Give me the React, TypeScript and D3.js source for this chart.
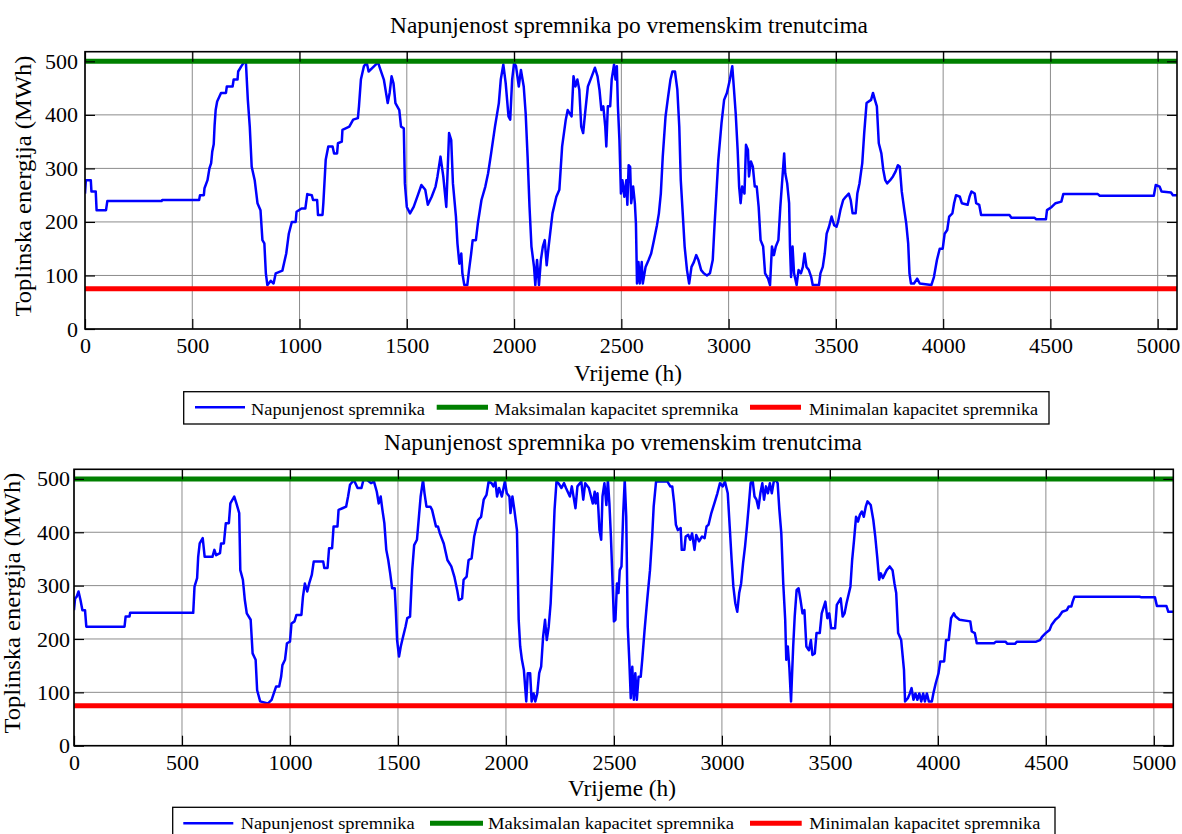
import { useEffect, useRef } from 'react';
import * as d3 from 'd3';

// ── Data ──

const topHours = [
  0, 4, 27, 30, 50, 54, 98, 104, 357, 360, 532, 536, 554, 557, 571, 580, 588, 593, 600, 604, 609, 616, 634, 657,
  661, 688, 693, 711, 714, 729, 741, 750, 759, 768, 777, 791, 804, 818, 827, 836, 843, 850, 866, 879, 889, 920,
  929, 938, 950, 964, 982, 986, 1009, 1027, 1036, 1057, 1063, 1082, 1086, 1107, 1111, 1122, 1134, 1154, 1161,
  1175, 1179, 1197, 1200, 1232, 1250, 1272, 1277, 1286, 1300, 1313, 1322, 1348, 1366, 1375, 1393, 1411, 1420,
  1429, 1438, 1447, 1465, 1473, 1486, 1491, 1500, 1515, 1532, 1554, 1568, 1586, 1598, 1616, 1634, 1643, 1657,
  1670, 1684, 1697, 1707, 1715, 1729, 1736, 1745, 1754, 1759, 1768, 1782, 1790, 1800, 1807, 1822, 1831, 1848,
  1866, 1879, 1893, 1911, 1929, 1938, 1950, 1961, 1974, 1982, 1991, 2000, 2009, 2022, 2032, 2045, 2054, 2063,
  2072, 2081, 2093, 2099, 2107, 2116, 2125, 2134, 2143, 2152, 2161, 2179, 2197, 2211, 2224, 2241, 2250, 2268,
  2277, 2286, 2295, 2304, 2313, 2322, 2331, 2344, 2362, 2377, 2389, 2398, 2407, 2416, 2425, 2430, 2437, 2448,
  2455, 2466, 2473, 2479, 2484, 2491, 2498, 2505, 2514, 2523, 2528, 2534, 2541, 2546, 2555, 2563, 2568, 2573,
  2580, 2586, 2595, 2600, 2613, 2627, 2639, 2652, 2666, 2675, 2684, 2693, 2706, 2716, 2729, 2738, 2750, 2761,
  2770, 2777, 2788, 2795, 2806, 2816, 2827, 2838, 2849, 2859, 2872, 2884, 2899, 2913, 2926, 2934, 2943, 2952,
  2967, 2979, 2992, 3006, 3017, 3024, 3033, 3042, 3049, 3056, 3063, 3074, 3081, 3090, 3095, 3104, 3113, 3122,
  3131, 3140, 3149, 3161, 3170, 3184, 3193, 3202, 3211, 3220, 3232, 3241, 3250, 3259, 3264, 3273, 3282, 3286,
  3291, 3298, 3305, 3317, 3326, 3337, 3346, 3354, 3363, 3374, 3385, 3392, 3421, 3428, 3439, 3448, 3457, 3468,
  3480, 3492, 3503, 3510, 3521, 3534, 3546, 3560, 3569, 3578, 3592, 3600, 3610, 3623, 3632, 3643, 3664, 3673,
  3682, 3691, 3700, 3712, 3721, 3730, 3739, 3753, 3766, 3778, 3789, 3798, 3807, 3819, 3828, 3837, 3843, 3850,
  3864, 3879, 3891, 3945, 3957, 3971, 3984, 3998, 4007, 4019, 4028, 4043, 4051, 4060, 4078, 4087, 4114, 4123,
  4132, 4147, 4154, 4168, 4177, 4309, 4318, 4425, 4434, 4479, 4484, 4506, 4524, 4551, 4560, 4721, 4730, 4982,
  4991, 5009, 5018, 5062, 5071, 5090,
];
const topLevels = [
  253, 278, 278, 257, 257, 222, 222, 239, 239, 241, 241, 250, 250, 263, 278, 300, 310, 331, 345, 380, 409, 425,
  441, 441, 453, 453, 466, 466, 481, 491, 498, 498, 428, 378, 303, 278, 235, 222, 166, 160, 104, 82, 90, 85, 104,
  109, 125, 141, 178, 200, 200, 219, 225, 225, 252, 250, 241, 241, 213, 213, 235, 316, 341, 341, 328, 328, 347,
  350, 372, 378, 391, 394, 416, 466, 491, 498, 481, 491, 498, 487, 466, 422, 441, 472, 459, 422, 409, 378, 375,
  272, 228, 216, 228, 253, 269, 260, 232, 247, 266, 285, 322, 285, 228, 366, 353, 272, 210, 160, 122, 141, 104,
  82, 82, 110, 141, 166, 166, 197, 241, 266, 291, 328, 378, 422, 466, 494, 459, 397, 391, 466, 497, 491, 453,
  484, 453, 403, 322, 228, 154, 116, 82, 129, 82, 129, 154, 166, 119, 154, 216, 247, 260, 341, 391, 409, 397,
  472, 453, 466, 447, 378, 366, 403, 453, 472, 488, 472, 447, 409, 416, 378, 341, 416, 416, 466, 494, 466, 491,
  416, 353, 253, 278, 247, 278, 232, 306, 303, 235, 266, 235, 197, 85, 125, 85, 125, 85, 116, 129, 141, 166, 194,
  216, 253, 322, 397, 428, 466, 481, 481, 447, 378, 278, 203, 154, 110, 85, 116, 125, 138, 129, 110, 104, 100,
  104, 129, 191, 253, 316, 385, 428, 441, 466, 491, 453, 403, 335, 266, 235, 266, 253, 344, 335, 285, 313, 303,
  266, 266, 228, 166, 154, 104, 94, 82, 154, 138, 154, 166, 228, 278, 328, 291, 272, 235, 154, 97, 154, 104, 82,
  110, 104, 116, 141, 116, 110, 97, 82, 82, 104, 116, 141, 178, 191, 210, 194, 191, 200, 222, 241, 247, 253, 241,
  216, 216, 253, 272, 310, 366, 422, 428, 441, 428, 416, 347, 328, 297, 278, 272, 278, 285, 294, 306, 303, 257,
  222, 197, 160, 104, 85, 85, 94, 85, 82, 97, 129, 150, 150, 178, 185, 210, 216, 235, 250, 247, 235, 232, 247,
  257, 253, 235, 232, 213, 213, 208, 208, 205, 205, 222, 228, 235, 238, 252, 252, 249, 249, 269, 266, 257, 255,
  250, 250,
];

const bottomHours = [
  0, 5, 12, 21, 30, 39, 51, 57, 234, 239, 257, 260, 552, 558, 570, 575, 582, 596, 605, 641, 650, 658, 676, 681,
  694, 703, 717, 724, 742, 752, 765, 770, 782, 791, 800, 818, 827, 841, 848, 862, 897, 915, 936, 950, 959, 965,
  977, 986, 1000, 1007, 1021, 1030, 1053, 1060, 1069, 1080, 1089, 1101, 1110, 1154, 1159, 1174, 1181, 1195, 1202,
  1220, 1225, 1243, 1260, 1269, 1278, 1296, 1313, 1331, 1340, 1358, 1375, 1389, 1402, 1411, 1420, 1428, 1437,
  1446, 1455, 1464, 1473, 1485, 1490, 1496, 1505, 1513, 1520, 1535, 1543, 1556, 1566, 1575, 1588, 1597, 1605,
  1616, 1623, 1632, 1650, 1658, 1676, 1685, 1694, 1712, 1729, 1747, 1761, 1774, 1782, 1797, 1804, 1818, 1827,
  1841, 1853, 1871, 1885, 1897, 1910, 1920, 1933, 1942, 1951, 1959, 1968, 1981, 1995, 2004, 2016, 2021, 2030,
  2039, 2051, 2059, 2066, 2074, 2083, 2094, 2101, 2112, 2119, 2128, 2136, 2145, 2154, 2163, 2172, 2181, 2189,
  2198, 2207, 2216, 2225, 2234, 2243, 2257, 2269, 2278, 2296, 2305, 2322, 2331, 2349, 2358, 2367, 2384, 2402,
  2411, 2415, 2424, 2433, 2441, 2447, 2456, 2465, 2472, 2479, 2486, 2495, 2500, 2507, 2514, 2521, 2527, 2535,
  2543, 2550, 2557, 2564, 2571, 2578, 2585, 2592, 2599, 2606, 2614, 2624, 2631, 2642, 2654, 2667, 2677, 2684,
  2695, 2748, 2761, 2770, 2779, 2787, 2796, 2809, 2814, 2826, 2832, 2844, 2853, 2862, 2873, 2881, 2894, 2908,
  2920, 2929, 2938, 2951, 2965, 2979, 2991, 3004, 3014, 3027, 3036, 3045, 3053, 3062, 3071, 3080, 3089, 3098,
  3107, 3116, 3124, 3133, 3142, 3151, 3160, 3169, 3178, 3187, 3195, 3204, 3213, 3222, 3231, 3240, 3249, 3258,
  3266, 3275, 3284, 3293, 3298, 3305, 3312, 3320, 3325, 3330, 3337, 3346, 3355, 3364, 3373, 3382, 3391, 3403,
  3412, 3419, 3430, 3438, 3453, 3462, 3479, 3488, 3497, 3506, 3524, 3532, 3550, 3559, 3568, 3577, 3595, 3603,
  3612, 3621, 3630, 3639, 3648, 3657, 3666, 3674, 3689, 3701, 3710, 3719, 3728, 3736, 3745, 3763, 3777, 3790,
  3799, 3807, 3816, 3830, 3843, 3848, 3861, 3870, 3878, 3887, 3896, 3905, 3914, 3923, 3932, 3940, 3949, 3958,
  3972, 3979, 3990, 4003, 4011, 4029, 4038, 4050, 4061, 4074, 4082, 4100, 4150, 4157, 4171, 4180, 4260, 4269,
  4313, 4322, 4357, 4366, 4455, 4473, 4482, 4499, 4517, 4526, 4544, 4561, 4576, 4597, 4606, 4618, 4624, 4632,
  4934, 4943, 5005, 5014, 5058, 5067, 5090,
];
const bottomLevels = [
  254, 276, 279, 289, 273, 254, 254, 223, 223, 242, 242, 249, 249, 298, 314, 354, 379, 389, 354, 354, 367, 357,
  361, 379, 379, 417, 417, 454, 467, 454, 436, 329, 311, 273, 248, 236, 173, 161, 104, 83, 79, 86, 111, 111, 129,
  151, 161, 192, 195, 229, 233, 245, 245, 279, 304, 289, 304, 320, 345, 345, 333, 333, 370, 370, 411, 411, 442,
  445, 448, 467, 489, 498, 483, 483, 498, 498, 492, 495, 476, 454, 467, 442, 417, 367, 348, 323, 295, 295, 254,
  198, 167, 186, 198, 223, 239, 242, 329, 376, 386, 429, 467, 498, 473, 448, 448, 442, 411, 411, 398, 379, 348,
  336, 317, 292, 273, 276, 311, 317, 348, 351, 392, 423, 429, 461, 470, 495, 492, 486, 495, 467, 483, 467, 495,
  473, 467, 436, 467, 442, 404, 236, 186, 161, 142, 83, 136, 136, 83, 98, 83, 98, 136, 148, 204, 236, 198, 223,
  267, 348, 442, 495, 492, 483, 492, 483, 467, 486, 445, 486, 495, 461, 492, 483, 454, 476, 454, 473, 404, 386,
  467, 492, 451, 498, 454, 392, 292, 233, 236, 304, 286, 329, 336, 436, 498, 429, 223, 161, 89, 148, 86, 136, 86,
  129, 129, 161, 217, 273, 329, 392, 448, 495, 495, 486, 486, 454, 414, 404, 408, 367, 367, 392, 395, 386, 398,
  367, 395, 383, 392, 389, 411, 414, 436, 454, 473, 492, 486, 495, 473, 411, 348, 298, 267, 251, 286, 304, 342,
  373, 411, 448, 492, 498, 467, 461, 445, 473, 492, 461, 486, 473, 492, 473, 495, 498, 492, 442, 398, 304, 236,
  161, 186, 148, 83, 136, 186, 242, 292, 295, 273, 248, 254, 186, 179, 198, 170, 173, 211, 211, 248, 270, 239,
  248, 220, 220, 264, 276, 242, 248, 267, 298, 348, 386, 429, 420, 433, 439, 429, 448, 458, 451, 423, 392, 354,
  311, 323, 314, 329, 336, 329, 304, 286, 211, 198, 142, 83, 89, 98, 108, 86, 98, 86, 98, 83, 98, 83, 98, 83, 83,
  98, 117, 136, 158, 158, 198, 198, 239, 248, 242, 236, 233, 214, 211, 192, 192, 195, 195, 191, 191, 195, 195,
  198, 204, 211, 217, 226, 236, 242, 251, 254, 261, 261, 270, 279, 279, 278, 278, 262, 262, 251, 251,
];

const xTicks = [0, 500, 1000, 1500, 2000, 2500, 3000, 3500, 4000, 4500, 5000];
const yTicks = [0, 100, 200, 300, 400, 500];
const MAX_CAPACITY = 500;
const MIN_CAPACITY = 75;
const X_MAX = 5090;
const Y_MAX = 518;

const TITLE = 'Napunjenost spremnika po vremenskim trenutcima';
const X_LABEL = 'Vrijeme (h)';
const Y_LABEL = 'Toplinska energija (MWh)';
const LEGEND_LABELS = ['Napunjenost spremnika', 'Maksimalan kapacitet spremnika', 'Minimalan kapacitet spremnika'];
const SERIES_COLORS = ['#0000ff', '#008000', '#ff0000'];
const SERIES_WIDTHS = [2.5, 5, 5];

const FONT = "'Liberation Serif', 'Times New Roman', 'DejaVu Serif', serif";

// ── Layout (pixel positions of each panel) ──

interface LegendLayout {
  x: number;
  y: number;
  w: number;
  h: number;
  lineY: number;
  textY: number;
  lines: [number, number][];
  texts: [number, number][]; // start x, width
}

interface Panel {
  id: string;
  hours: number[];
  levels: number[];
  left: number;
  right: number;
  top: number;
  bottom: number;
  titleX: number;
  titleY: number;
  xLabelX: number;
  xLabelY: number;
  yLabelX: number;
  yLabelY: number;
  yTickGap: number;
  legend: LegendLayout;
}

const PANELS: Panel[] = [
  {
    id: 'top',
    hours: topHours,
    levels: topLevels,
    left: 85,
    right: 1177,
    top: 51.7,
    bottom: 329,
    titleX: 629,
    titleY: 33,
    xLabelX: 628,
    xLabelY: 381,
    yLabelX: 31,
    yLabelY: 186,
    yTickGap: 7,
    legend: {
      x: 183.7,
      y: 391.7,
      w: 865.3,
      h: 32.3,
      lineY: 407.3,
      textY: 415,
      lines: [[195, 245], [436.7, 488], [750, 801]],
      texts: [[251, 174], [494.5, 244], [809, 229]],
    },
  },
  {
    id: 'bottom',
    hours: bottomHours,
    levels: bottomLevels,
    left: 74,
    right: 1173.3,
    top: 469.3,
    bottom: 745.7,
    titleX: 623,
    titleY: 450,
    xLabelX: 622,
    xLabelY: 796,
    yLabelX: 20,
    yLabelY: 603,
    yTickGap: 4,
    legend: {
      x: 172.7,
      y: 807.3,
      w: 882.3,
      h: 32.3,
      lineY: 823.3,
      textY: 829.3,
      lines: [[183.3, 233.3], [430, 483], [750, 801.7]],
      texts: [[240.7, 174], [488, 246], [809.3, 231]],
    },
  },
];

function drawPanel(svg: d3.Selection<SVGSVGElement, unknown, null, undefined>, p: Panel) {
  const x = d3.scaleLinear().domain([0, X_MAX]).range([p.left, p.right]);
  const y = d3.scaleLinear().domain([0, Y_MAX]).range([p.bottom, p.top]);

  const g = svg.append('g').attr('class', `panel-${p.id}`).style('font-family', FONT);

  g.append('clipPath')
    .attr('id', `clip-${p.id}`)
    .append('rect')
    .attr('x', p.left)
    .attr('y', p.top)
    .attr('width', p.right - p.left)
    .attr('height', p.bottom - p.top);

  // Grid
  g.selectAll('.vgrid')
    .data(xTicks)
    .enter()
    .append('line')
    .attr('x1', (d) => x(d))
    .attr('x2', (d) => x(d))
    .attr('y1', p.top)
    .attr('y2', p.bottom)
    .attr('stroke', '#8c8c8c')
    .attr('stroke-width', 1);
  g.selectAll('.hgrid')
    .data(yTicks)
    .enter()
    .append('line')
    .attr('x1', p.left)
    .attr('x2', p.right)
    .attr('y1', (d) => y(d))
    .attr('y2', (d) => y(d))
    .attr('stroke', '#8c8c8c')
    .attr('stroke-width', 1);

  const plot = g.append('g').attr('clip-path', `url(#clip-${p.id})`);

  // Storage level
  const line = d3
    .line<number>()
    .x((_, i) => x(p.hours[i]))
    .y((d) => y(d));
  plot
    .append('path')
    .datum(p.levels)
    .attr('fill', 'none')
    .attr('stroke', SERIES_COLORS[0])
    .attr('stroke-width', SERIES_WIDTHS[0])
    .attr('stroke-linejoin', 'round')
    .attr('d', line);

  // Capacity limits
  [MAX_CAPACITY, MIN_CAPACITY].forEach((v, k) => {
    plot
      .append('line')
      .attr('x1', x(0))
      .attr('x2', x(X_MAX))
      .attr('y1', y(v))
      .attr('y2', y(v))
      .attr('stroke', SERIES_COLORS[k + 1])
      .attr('stroke-width', SERIES_WIDTHS[k + 1]);
  });

  // Axes (ticks inside, MATLAB style)
  const fmt = d3.format('d');
  const styleAxis = (a: d3.Selection<SVGGElement, unknown, null, undefined>) => {
    a.select('.domain').remove();
    a.attr('font-size', 22).style('font-family', FONT);
    a.selectAll('line').attr('stroke', '#000').attr('stroke-width', 1.2);
    a.selectAll('text').attr('fill', '#000').style('font-family', FONT);
  };

  const bottomAxis = g
    .append('g')
    .attr('transform', `translate(0,${p.bottom})`)
    .call(
      d3.axisBottom(x).tickValues(xTicks).tickFormat((d) => fmt(d as number)).tickSizeInner(-10).tickSizeOuter(0).tickPadding(8.5),
    );
  styleAxis(bottomAxis);

  const topAxis = g
    .append('g')
    .attr('transform', `translate(0,${p.top})`)
    .call(d3.axisTop(x).tickValues(xTicks).tickSizeInner(-10).tickSizeOuter(0).tickFormat(() => ''));
  styleAxis(topAxis);

  const leftAxis = g
    .append('g')
    .attr('transform', `translate(${p.left},0)`)
    .call(
      d3.axisLeft(y).tickValues(yTicks).tickFormat((d) => fmt(d as number)).tickSizeInner(-10).tickSizeOuter(0).tickPadding(p.yTickGap),
    );
  styleAxis(leftAxis);

  const rightAxis = g
    .append('g')
    .attr('transform', `translate(${p.right},0)`)
    .call(d3.axisRight(y).tickValues(yTicks).tickSizeInner(-10).tickSizeOuter(0).tickFormat(() => ''));
  styleAxis(rightAxis);

  // Box
  g.append('rect')
    .attr('x', p.left)
    .attr('y', p.top)
    .attr('width', p.right - p.left)
    .attr('height', p.bottom - p.top)
    .attr('fill', 'none')
    .attr('stroke', '#000')
    .attr('stroke-width', 1.6);

  // Title and axis labels
  g.append('text')
    .attr('x', p.titleX)
    .attr('y', p.titleY)
    .attr('text-anchor', 'middle')
    .attr('font-size', 24)
    .attr('textLength', 478)
    .attr('lengthAdjust', 'spacingAndGlyphs')
    .text(TITLE);

  g.append('text')
    .attr('x', p.xLabelX)
    .attr('y', p.xLabelY)
    .attr('text-anchor', 'middle')
    .attr('font-size', 24)
    .attr('textLength', 108)
    .attr('lengthAdjust', 'spacingAndGlyphs')
    .text(X_LABEL);

  g.append('text')
    .attr('transform', `translate(${p.yLabelX},${p.yLabelY}) rotate(-90)`)
    .attr('text-anchor', 'middle')
    .attr('font-size', 24)
    .attr('textLength', 261)
    .attr('lengthAdjust', 'spacingAndGlyphs')
    .text(Y_LABEL);

  // Legend
  const L = p.legend;
  const lg = g.append('g').attr('class', 'legend');
  lg.append('rect')
    .attr('x', L.x)
    .attr('y', L.y)
    .attr('width', L.w)
    .attr('height', L.h)
    .attr('fill', '#fff')
    .attr('stroke', '#000')
    .attr('stroke-width', 1.3);
  LEGEND_LABELS.forEach((label, i) => {
    lg.append('line')
      .attr('x1', L.lines[i][0])
      .attr('x2', L.lines[i][1])
      .attr('y1', L.lineY)
      .attr('y2', L.lineY)
      .attr('stroke', SERIES_COLORS[i])
      .attr('stroke-width', SERIES_WIDTHS[i]);
    lg.append('text')
      .attr('x', L.texts[i][0])
      .attr('y', L.textY)
      .attr('font-size', 17)
      .attr('textLength', L.texts[i][1])
      .attr('lengthAdjust', 'spacingAndGlyphs')
      .text(label);
  });
}

export default function App() {
  const svgRef = useRef<SVGSVGElement>(null);

  useEffect(() => {
    const svgEl = svgRef.current;
    if (!svgEl) return;
    const svg = d3.select(svgEl);
    svg.selectAll('*').remove();
    PANELS.forEach((p) => drawPanel(svg, p));
    return () => {
      svg.selectAll('*').remove();
    };
  }, []);

  return (
    <svg
      ref={svgRef}
      width={1182}
      height={834}
      style={{ position: 'absolute', left: 0, top: 0, background: '#fff', display: 'block' }}
    />
  );
}
